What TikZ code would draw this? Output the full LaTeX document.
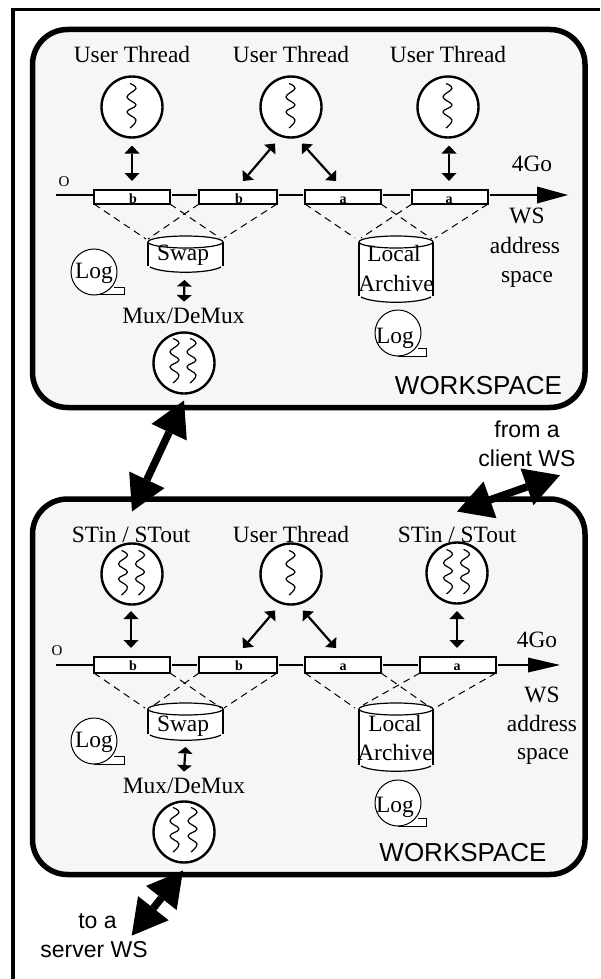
\documentclass[tikz,border=0pt]{standalone}
\usepackage{fontspec}
\setmainfont{Liberation Serif}
\setsansfont{Liberation Sans}
\usetikzlibrary{arrows.meta}
\definecolor{panelgrey}{HTML}{F6F6F6}
\tikzset{
  x=1pt,y=-1pt,
  every node/.style={inner sep=0pt,outer sep=0pt},
  panel/.style={draw=black,fill=panelgrey,line width=5.5pt,rounded corners=35pt},
  frameline/.style={line width=3.6pt,line cap=butt,line join=miter},
  thd/.style={circle,draw=black,fill=white,line width=2.4pt,minimum size=61pt},
  seg/.style={rectangle,draw=black,fill=white,line width=1.2pt,minimum width=76pt},
  letter/.style={anchor=base,font=\fontsize{14}{14}\selectfont\bfseries},
  lbl/.style={anchor=base,font=\fontsize{23.4}{23.4}\selectfont},
  sanslbl/.style={anchor=base,font=\fontsize{23}{23}\selectfont\sffamily},
  wslbl/.style={anchor=base,font=\fontsize{26}{26}\selectfont\sffamily},
  olbl/.style={anchor=center,font=\fontsize{15}{15}\selectfont},
  logc/.style={circle,draw=black,fill=white,line width=1pt,minimum size=46pt},
  tail/.style={draw=black,fill=white,line width=1pt},
  dbl/.style={line width=2.2pt,{Triangle[length=8pt,width=15pt,line width=0pt]}-{Triangle[length=8pt,width=15pt,line width=0pt]}},
  sdbl/.style={line width=2.2pt,{Triangle[length=6.5pt,width=15pt,line width=0pt]}-{Triangle[length=6.5pt,width=15pt,line width=0pt]}},
  big/.style={line width=7.5pt,{Triangle[length=35pt,width=39pt,line width=0pt]}-{Triangle[length=35pt,width=39pt,line width=0pt]}},
  axisline/.style={line width=2pt},
  axishead/.style={line width=2pt,-{Triangle[length=31pt,width=17pt,line width=0pt]}},
  dsh/.style={line width=1pt,dash pattern=on 7pt off 5pt},
  wig/.style={line width=1.2pt},
  cylside/.style={line width=2pt},
  cylcap/.style={line width=1.2pt}
}
\newcommand{\wiggle}[2]{\draw[wig,shift={(#1,#2)}] plot[smooth,tension=.7] coordinates {(-2,-22.5)(4,-17.5)(-5,-9)(4,-1)(-5,6)(4,14)(-2,22)};}
% name, cx, ytop, half width, total height
\newcommand{\cyl}[5]{%
 \begin{scope}[shift={(#2,#3)}]
  \node[minimum width=2*#4 pt,minimum height=#5 pt] (#1) at (0,#5/2) {};
  \fill[white] (-#4,6) -- (-#4,#5-7) .. controls (-#4+15,#5+1) and (#4-15,#5+1) .. (#4,#5-7) -- (#4,6) -- cycle;
  \draw[cylside] (-#4,6) -- (-#4,#5-7) (#4,6) -- (#4,#5-7);
  \draw[cylcap] (-#4+2,#5-6) .. controls (-#4+15,#5+1) and (#4-15,#5+1) .. (#4-2,#5-6);
  \draw[cylcap,fill=white] (0,6) ellipse [x radius=#4,y radius=6];
 \end{scope}}
% name, cx, cy, tail bottom, tail right, tail top
\newcommand{\logdisc}[6]{%
  \draw[tail] (#2,#4) -- (#5,#4) -- (#5,#6) -- (#2+20,#6);
  \node[logc] (#1) at (#2,#3) {};
}
\begin{document}
\begin{tikzpicture}
\useasboundingbox (0,0) rectangle (600,979);
\fill[white] (0,0) rectangle (600,979);
\draw[frameline] (13,979) -- (13,9.5) -- (600,9.5);

%% panels
\node[panel,minimum width=552.5pt,minimum height=378pt,anchor=north west] (panelA) at (32.5,29.5) {};
\node[panel,minimum width=552.5pt,minimum height=375.5pt,anchor=north west] (panelB) at (32.5,499) {};

%% upper panel
\node[lbl] (tA) at (132,63) {User Thread};
\node[lbl] (tB) at (291,63) {User Thread};
\node[lbl] (tC) at (448,63) {User Thread};
\node[thd] (utA) at (132,107) {}; \wiggle{132}{106}
\node[thd] (utB) at (291,107) {}; \wiggle{291}{106}
\node[thd] (utC) at (448,107) {}; \wiggle{448}{106}

\node[seg,minimum height=14pt,minimum width=76pt] (bA) at (132,197) {};
\node[seg,minimum height=14pt,minimum width=78pt] (bB) at (238,197) {};
\node[seg,minimum height=14pt,minimum width=76pt] (aA) at (343,197) {};
\node[seg,minimum height=14pt,minimum width=76pt] (aB) at (450,197) {};
\node[letter] at (133,203) {b};
\node[letter] at (239,203) {b};
\node[letter] at (343,203) {a};
\node[letter] at (449,203) {a};
\coordinate (oA) at (56,195);
\coordinate (endA) at (568,195);
\draw[axisline] (oA) -- ([xshift=-1pt]bA.west |- oA);
\draw[axisline] ([xshift=2pt]bA.east |- oA) -- ([xshift=-2pt]bB.west |- oA);
\draw[axisline] ([xshift=2pt]bB.east |- oA) -- ([xshift=-2pt]aA.west |- oA);
\draw[axisline] ([xshift=2pt]aA.east |- oA) -- ([xshift=-2pt]aB.west |- oA);
\draw[axishead] ([xshift=2pt]aB.east |- oA) -- (endA);
\node[olbl] (oTA) at (64,182) {O};
\node[lbl] (gA) at (532,171) {4Go};
\node[lbl] (wA) at (527,223) {WS};
\node[lbl] (adA) at (525,253) {address};
\node[lbl] (spA) at (527,282) {space};

\draw[dbl] ([shift={(0,8)}]utA.south) -- ([shift={(0,-9)}]bA.north);
\draw[dbl] ([shift={(-16,6)}]utB.south) -- ([shift={(5,-9)}]bB.north);
\draw[dbl] ([shift={(11,6)}]utB.south) -- ([shift={(-7,-9)}]aA.north);
\draw[dbl] ([shift={(1,8)}]utC.south) -- ([shift={(-1,-9)}]aB.north);

\cyl{swapA}{185.5}{236}{37.5}{37}
\cyl{archA}{396}{236}{37}{67}
\node[lbl] at (183,260) {Swap};
\node[lbl] at (394,261) {Local};
\node[lbl] at (396,291) {Archive};
\draw[dsh] (bA.south west) -- ([shift={(-2,3)}]swapA.north west);
\draw[dsh] (bA.south east) -- ([shift={(-3,2)}]swapA.north east);
\draw[dsh] (bB.south west) -- ([shift={(0,3)}]swapA.north west);
\draw[dsh] (bB.south east) -- ([shift={(1,2)}]swapA.north east);
\draw[dsh] (aA.south west) -- ([shift={(-4,2)}]archA.north west);
\draw[dsh] (aA.south east) -- ([shift={(-1,3)}]archA.north east);
\draw[dsh] (aB.south west) -- ([shift={(2,2)}]archA.north west);
\draw[dsh] (aB.south east) -- ([shift={(2,2)}]archA.north east);

\logdisc{logA}{94}{272}{294.5}{124}{287}
\node[lbl] at (94,278) {Log};
\logdisc{logB}{398}{333}{356.5}{426}{348}
\node[lbl] at (395,343) {Log};

\node[lbl] (muxtA) at (183.5,323) {Mux/DeMux};
\node[thd] (muxA) at (184,363) {}; \wiggle{175}{361} \wiggle{192}{361}
\draw[sdbl] ([shift={(-1,7)}]swapA.south) -- ([shift={(0.5,-6)}]muxtA.north);
\node[wslbl] (wsA) at (478.5,394) {WORKSPACE};

%% lower panel
\node[lbl] (tD) at (131,542) {STin / STout};
\node[lbl] (tE) at (291,542) {User Thread};
\node[lbl] (tF) at (457,542) {STin / STout};
\node[thd] (stA) at (132,574) {}; \wiggle{123.5}{573} \wiggle{140.5}{573}
\node[thd] (utD) at (291,574) {}; \wiggle{291}{573}
\node[thd] (stB) at (457,573) {}; \wiggle{448.5}{572} \wiggle{465.5}{572}

\node[seg,minimum height=16pt,minimum width=76pt] (bC) at (132,665) {};
\node[seg,minimum height=16pt,minimum width=78pt] (bD) at (238,665) {};
\node[seg,minimum height=16pt,minimum width=76pt] (aC) at (343,665) {};
\node[seg,minimum height=16pt,minimum width=76pt] (aD) at (458,665) {};
\node[letter] at (133,670) {b};
\node[letter] at (239,670) {b};
\node[letter] at (343,670) {a};
\node[letter] at (457,670) {a};
\coordinate (oB) at (56,665);
\coordinate (endB) at (560,665);
\draw[axisline] (oB) -- ([xshift=-1pt]bC.west);
\draw[axisline] ([xshift=2pt]bC.east) -- ([xshift=-2pt]bD.west);
\draw[axisline] ([xshift=2pt]bD.east) -- ([xshift=-2pt]aC.west);
\draw[axisline] ([xshift=2pt]aC.east) -- ([xshift=-2pt]aD.west);
\draw[line width=2pt,-{Triangle[length=32pt,width=15pt,line width=0pt]}] ([xshift=2pt]aD.east) -- (endB);
\node[olbl] (oTB) at (57,651) {O};
\node[lbl] (gB) at (537,647) {4Go};
\node[lbl] (wB) at (542,702) {WS};
\node[lbl] (adB) at (542,731) {address};
\node[lbl] (spB) at (543,759) {space};

\draw[dbl] ([shift={(-1,6.5)}]stA.south) -- ([shift={(-1,-9)}]bC.north);
\draw[dbl] ([shift={(-16,6)}]utD.south) -- ([shift={(5,-9)}]bD.north);
\draw[dbl] ([shift={(12,6)}]utD.south) -- ([shift={(-7,-9)}]aC.north);
\draw[dbl] ([shift={(0,7.5)}]stB.south) -- ([shift={(-1,-9)}]aD.north);

\cyl{swapB}{185.5}{703}{37.5}{38}
\cyl{archB}{396}{703}{37}{69}
\node[lbl] at (183,731) {Swap};
\node[lbl] at (395,731) {Local};
\node[lbl] at (395,760) {Archive};
\draw[dsh] (bC.south west) -- ([shift={(-3,5)}]swapB.north west);
\draw[dsh] (bC.south east) -- ([shift={(-2,5)}]swapB.north east);
\draw[dsh] (bD.south west) -- ([shift={(2,5)}]swapB.north west);
\draw[dsh] (bD.south east) -- ([shift={(1,5)}]swapB.north east);
\draw[dsh] (aC.south west) -- ([shift={(-4,5)}]archB.north west);
\draw[dsh] (aC.south east) -- ([shift={(-2,5)}]archB.north east);
\draw[dsh] (aD.south west) -- ([shift={(4,2)}]archB.north west);
\draw[dsh] (aD.south east) -- ([shift={(2,5)}]archB.north east);

\logdisc{logC}{94}{741}{764}{124}{756}
\node[lbl] at (94,747) {Log};
\logdisc{logD}{398}{803}{826}{426}{818}
\node[lbl] at (395,812) {Log};

\node[lbl] (muxtB) at (184,793) {Mux/DeMux};
\node[thd] (muxB) at (184,832) {}; \wiggle{175}{830} \wiggle{193}{830}
\draw[sdbl] ([shift={(0,6)}]swapB.south) -- ([shift={(0,-6)}]muxtB.north);
\node[wslbl] (wsB) at (463,861) {WORKSPACE};

%% links between workspaces
\node[sanslbl] (fromT) at (527,437) {from a};
\node[sanslbl] (clientT) at (527,466) {client WS};
\node[sanslbl] (toT) at (97.5,928) {to a};
\node[sanslbl] (serverT) at (94,957) {server WS};
\draw[big] ([shift={(0,7)}]muxA.south) -- ([shift={(1,-15)}]tD.north);
\draw[big] ([shift={(33,9)}]clientT.south) -- ([shift={(0,-15)}]tF.north);
\draw[big] ([shift={(-1,8)}]muxB.south) -- ([shift={(15,15)}]toT.east);
\end{tikzpicture}
\end{document}
